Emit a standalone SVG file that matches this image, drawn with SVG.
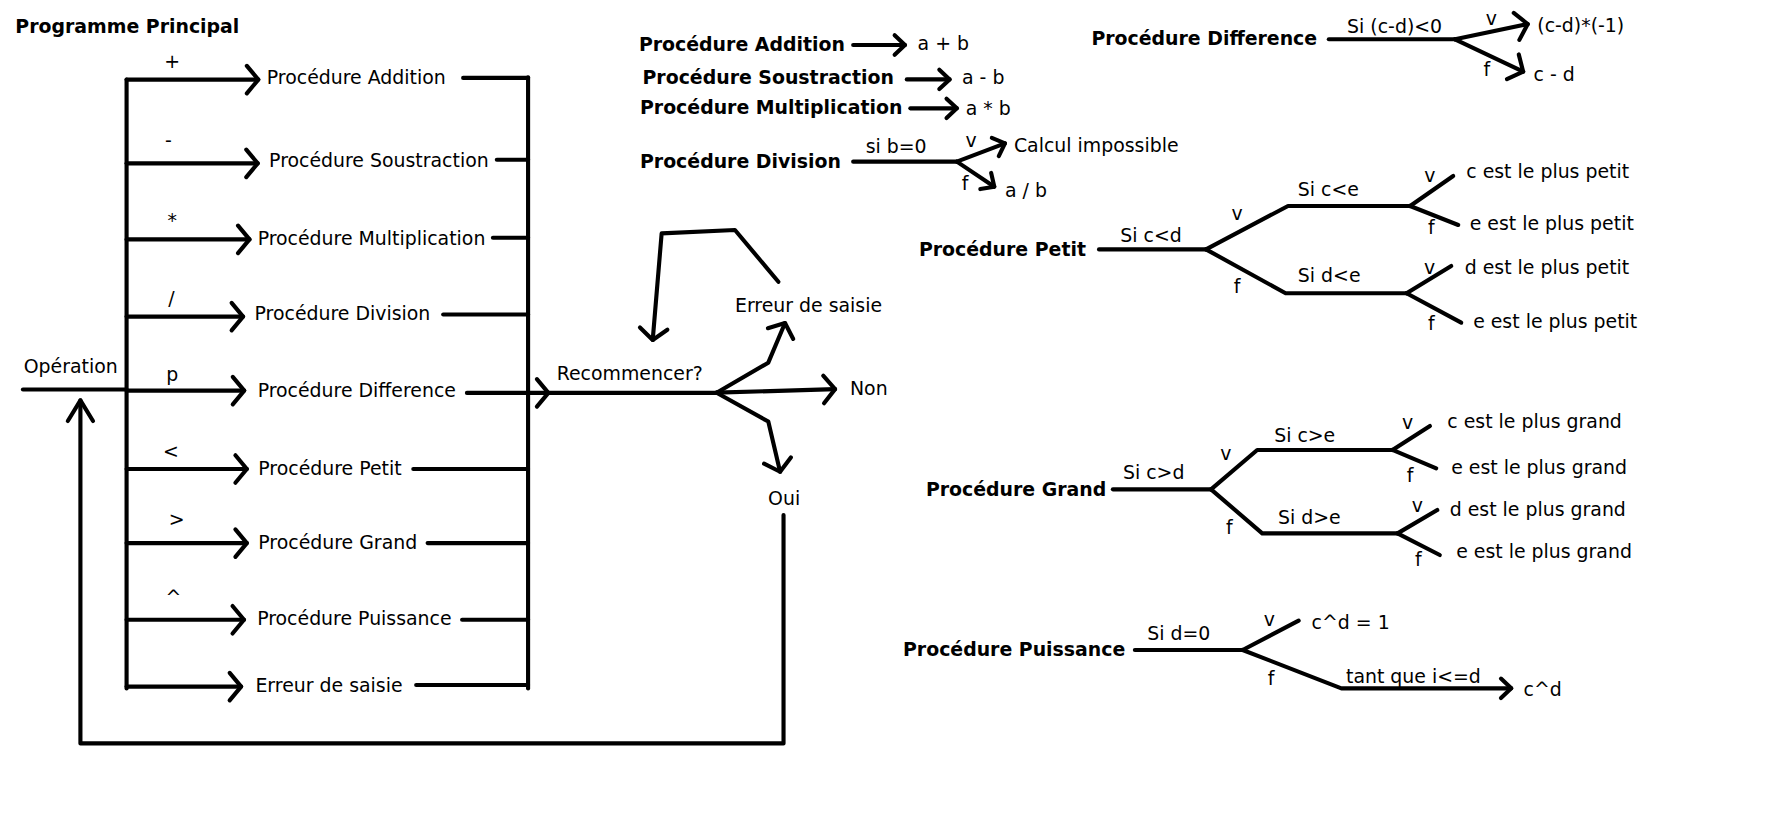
<svg xmlns="http://www.w3.org/2000/svg" width="1787" height="816" viewBox="0 0 1787 816">
<style>
.ln{fill:none;stroke:#000;stroke-width:3.6;stroke-linecap:round;stroke-linejoin:round}
.t{font-family:"DejaVu Sans",Verdana,sans-serif;font-size:16.5px;fill:#000}
.b{font-weight:bold}
.m{text-anchor:middle}
</style>
<defs>
<marker id="ah" markerUnits="userSpaceOnUse" viewBox="-20 -20 40 40" markerWidth="40" markerHeight="40" refX="0" refY="0" orient="auto" overflow="visible"><path class="ln" d="M-10,-12 L0,0 L-10,12"/></marker>
<marker id="as" markerUnits="userSpaceOnUse" viewBox="-20 -20 40 40" markerWidth="40" markerHeight="40" refX="0" refY="0" orient="auto" overflow="visible"><path class="ln" d="M-9,-8.5 L0,0 L-9,8.5"/></marker>
<marker id="al" markerUnits="userSpaceOnUse" viewBox="-20 -20 40 40" markerWidth="40" markerHeight="40" refX="0" refY="0" orient="auto" overflow="visible"><path class="ln" d="M-18,-11 L0,0 L-18,11"/></marker>
</defs>
<rect width="1787" height="816" fill="#fff"/>
<g transform="scale(1.14551)">
<g id="connectors">
<path class="ln" d="M20,340 H110.5"/>
<path class="ln" d="M110.5,69.5 V601"/>
<path class="ln" d="M461,67.5 V601"/>
<path class="ln" d="M110.5,69.5 H225.5" marker-end="url(#ah)"/>
<path class="ln" d="M110.5,142.6 H225" marker-end="url(#ah)"/>
<path class="ln" d="M110.5,209 H217.8" marker-end="url(#ah)"/>
<path class="ln" d="M110.5,276.4 H212.2" marker-end="url(#ah)"/>
<path class="ln" d="M110.5,341 H213.2" marker-end="url(#ah)"/>
<path class="ln" d="M110.5,409.4 H215.5" marker-end="url(#ah)"/>
<path class="ln" d="M110.5,474.1 H215.5" marker-end="url(#ah)"/>
<path class="ln" d="M110.5,541 H213" marker-end="url(#ah)"/>
<path class="ln" d="M110.5,599.4 H210.5" marker-end="url(#ah)"/>
<path class="ln" d="M404.3,68 H461"/>
<path class="ln" d="M433.7,139.5 H461"/>
<path class="ln" d="M430.3,207.5 H461"/>
<path class="ln" d="M386.9,274.5 H461"/>
<path class="ln" d="M407.6,343 H478.7" marker-end="url(#ah)"/>
<path class="ln" d="M478.7,343 H625.6"/>
<path class="ln" d="M360.8,409.4 H461"/>
<path class="ln" d="M373.3,474.1 H461"/>
<path class="ln" d="M403.4,541 H461"/>
<path class="ln" d="M363.3,598 H461"/>
<path class="ln" d="M684,449.6 V649 H70.2 V349.5" marker-end="url(#al)"/>
<path class="ln" d="M625.6,342.8 L670.7,316.6 L685.3,282" marker-end="url(#ah)"/>
<path class="ln" d="M625.6,342.8 L729,339.7" marker-end="url(#ah)"/>
<path class="ln" d="M625.6,342.8 L670.7,368 L681,411.8" marker-end="url(#ah)"/>
<path class="ln" d="M679.5,246 L641.6,200.8 L577.6,203.7 L569.8,296.8" marker-end="url(#ah)"/>
<path class="ln" d="M744.8,39.3 H790" marker-end="url(#as)"/>
<path class="ln" d="M791.6,69.3 H829" marker-end="url(#as)"/>
<path class="ln" d="M794.7,94.6 H835.3" marker-end="url(#as)"/>
<path class="ln" d="M744.8,141.1 H835.3"/>
<path class="ln" d="M835.3,141.1 L877.3,125.1" marker-end="url(#as)"/>
<path class="ln" d="M835.3,141.1 L868,163" marker-end="url(#as)"/>
<path class="ln" d="M1160,34.3 H1270.2"/>
<path class="ln" d="M1270.2,34.3 L1333.7,21" marker-end="url(#ah)"/>
<path class="ln" d="M1270.2,34.3 L1329.7,62.6" marker-end="url(#ah)"/>
<path class="ln" d="M959.4,217.7 H1052.8"/>
<path class="ln" d="M1052.8,217.7 L1124.4,179.8 H1231"/>
<path class="ln" d="M1231,179.8 L1268.6,153.6"/>
<path class="ln" d="M1231,179.8 L1273,196.4"/>
<path class="ln" d="M1052.8,217.7 L1122.3,256 H1227.9"/>
<path class="ln" d="M1227.9,256 L1266.9,232.2"/>
<path class="ln" d="M1227.9,256 L1275.6,281.7"/>
<path class="ln" d="M971.5,427.2 H1057.2"/>
<path class="ln" d="M1057.2,427.2 L1097.5,392.8 H1215.6"/>
<path class="ln" d="M1215.6,392.8 L1248.3,371.9"/>
<path class="ln" d="M1215.6,392.8 L1253.8,408.8"/>
<path class="ln" d="M1057.2,427.2 L1101.9,465.6 H1220"/>
<path class="ln" d="M1220,465.6 L1254.7,445.2"/>
<path class="ln" d="M1220,465.6 L1256.9,484.5"/>
<path class="ln" d="M990.7,567.4 H1084.8"/>
<path class="ln" d="M1084.8,567.4 L1133.7,541.8"/>
<path class="ln" d="M1084.8,567.4 L1171,600.9 H1319.3" marker-end="url(#as)"/>
</g>
<g id="edge-labels" class="t">
<text class="m" x="150.4" y="59.3">+</text>
<text class="m" x="147" y="128.3">-</text>
<text class="m" x="150.4" y="198.6">*</text>
<text class="m" x="149.7" y="266.4">/</text>
<text class="m" x="150.4" y="333">p</text>
<text class="m" x="149.3" y="399.7">&lt;</text>
<text class="m" x="154.3" y="459.3">&gt;</text>
<text class="m" x="151.3" y="527.5">^</text>
<text x="755.7" y="134">si b=0</text>
<text class="m" x="847.7" y="128">v</text>
<text class="m" x="842.4" y="166">f</text>
<text x="1176" y="28.7">Si (c-d)&lt;0</text>
<text class="m" x="1302" y="22">v</text>
<text class="m" x="1298" y="66.5">f</text>
<text x="978" y="211">Si c&lt;d</text>
<text class="m" x="1080" y="192.2">v</text>
<text x="1133" y="171">Si c&lt;e</text>
<text class="m" x="1248.3" y="158.7">v</text>
<text class="m" x="1249.5" y="204.5">f</text>
<text class="m" x="1080" y="255.7">f</text>
<text x="1133" y="246">Si d&lt;e</text>
<text class="m" x="1248" y="239.5">v</text>
<text class="m" x="1249.5" y="288">f</text>
<text x="980.3" y="417.8">Si c&gt;d</text>
<text class="m" x="1070.2" y="401.7">v</text>
<text x="1112.3" y="385.7">Si c&gt;e</text>
<text class="m" x="1228.7" y="374.6">v</text>
<text class="m" x="1231" y="421">f</text>
<text class="m" x="1073.2" y="466.1">f</text>
<text x="1115.7" y="457.6">Si d&gt;e</text>
<text class="m" x="1237.4" y="446.8">v</text>
<text class="m" x="1238.2" y="493.7">f</text>
<text x="1001.5" y="559">Si d=0</text>
<text class="m" x="1108" y="546.3">v</text>
<text class="m" x="1109.7" y="597.6">f</text>
<text x="1175" y="596">tant que i&lt;=d</text>
</g>
<g id="title"><text class="t b" x="13.4" y="29">Programme Principal</text></g>
<g id="operation"><text class="t" x="20.7" y="326">Opération</text></g>
<g id="p-addition"><text class="t" x="232.9" y="73.5">Procédure Addition</text></g>
<g id="p-soustraction"><text class="t" x="234.9" y="145.7">Procédure Soustraction</text></g>
<g id="p-multiplication"><text class="t" x="224.9" y="214">Procédure Multiplication</text></g>
<g id="p-division"><text class="t" x="222.2" y="279.5">Procédure Division</text></g>
<g id="p-difference"><text class="t" x="224.9" y="347">Procédure Difference</text></g>
<g id="p-petit"><text class="t" x="225.5" y="415">Procédure Petit</text></g>
<g id="p-grand"><text class="t" x="225.5" y="479.6">Procédure Grand</text></g>
<g id="p-puissance"><text class="t" x="224.5" y="545.8">Procédure Puissance</text></g>
<g id="erreur-1"><text class="t" x="223" y="604.5">Erreur de saisie</text></g>
<g id="recommencer"><text class="t" x="486" y="332">Recommencer?</text></g>
<g id="erreur-2"><text class="t" x="641.6" y="272">Erreur de saisie</text></g>
<g id="non"><text class="t" x="742" y="345">Non</text></g>
<g id="oui"><text class="t" x="670.5" y="441">Oui</text></g>
<g id="def-addition"><text class="t b" x="557.8" y="44.5">Procédure Addition</text><text class="t" x="801" y="44">a + b</text></g>
<g id="def-soustraction"><text class="t b" x="560.9" y="73.5">Procédure Soustraction</text><text class="t" x="839.8" y="73.5">a - b</text></g>
<g id="def-multiplication"><text class="t b" x="558.7" y="99.7">Procédure Multiplication</text><text class="t" x="843" y="100">a * b</text></g>
<g id="def-division"><text class="t b" x="558.7" y="146.3">Procédure Division</text><text class="t" x="885.1" y="132.6">Calcul impossible</text><text class="t" x="877.3" y="172">a / b</text></g>
<g id="def-difference"><text class="t b" x="952.8" y="39.5">Procédure Difference</text><text class="t" x="1342" y="27.8">(c-d)*(-1)</text><text class="t" x="1338.7" y="70.6">c - d</text></g>
<g id="def-petit"><text class="t b" x="802.2" y="223.7">Procédure Petit</text><text class="t" x="1280" y="155">c est le plus petit</text><text class="t" x="1283" y="200.4">e est le plus petit</text><text class="t" x="1278.7" y="239.4">d est le plus petit</text><text class="t" x="1286" y="286">e est le plus petit</text></g>
<g id="def-grand"><text class="t b" x="808.3" y="433">Procédure Grand</text><text class="t" x="1263.5" y="373.2">c est le plus grand</text><text class="t" x="1266.9" y="413.4">e est le plus grand</text><text class="t" x="1265.6" y="450.6">d est le plus grand</text><text class="t" x="1271.2" y="486.7">e est le plus grand</text></g>
<g id="def-puissance"><text class="t b" x="788.3" y="572.8">Procédure Puissance</text><text class="t" x="1145" y="548.7">c^d = 1</text><text class="t" x="1330" y="607.8">c^d</text></g>
</g>
</svg>
